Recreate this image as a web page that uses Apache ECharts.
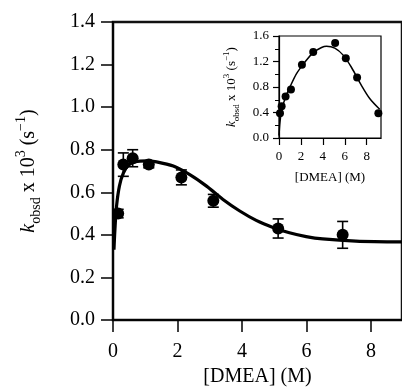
<!DOCTYPE html>
<html><head><meta charset="utf-8">
<script src="https://cdn.jsdelivr.net/npm/echarts@6/dist/echarts.min.js"></script>
<style>html,body{margin:0;padding:0;background:#fff}#c{width:402px;height:392px}</style>
</head><body><div id="c"></div><script>
// Main plot data
const mainX = [0.16, 0.32, 0.61, 1.11, 2.12, 3.11, 5.12, 7.12];
const mainY = [0.50, 0.73, 0.76, 0.73, 0.67, 0.56, 0.43, 0.40];
const mainErr = [0.02, 0.055, 0.04, 0.015, 0.035, 0.03, 0.045, 0.063];
const fitX = [0.03, 0.06, 0.11, 0.2, 0.32, 0.47, 0.68, 1.04, 1.35, 1.87, 2.38, 2.9, 3.41, 3.93, 4.44, 4.96, 5.47, 5.99, 6.5, 7.53, 8.96];
const fitY = [0.33, 0.426, 0.535, 0.63, 0.69, 0.726, 0.743, 0.748, 0.743, 0.723, 0.683, 0.629, 0.566, 0.512, 0.468, 0.435, 0.41, 0.392, 0.381, 0.371, 0.367];
// Inset data
const insetX = [0.09, 0.24, 0.6, 1.09, 2.09, 3.12, 5.12, 6.09, 7.12, 9.06];
const insetY = [0.39, 0.50, 0.65, 0.76, 1.15, 1.35, 1.49, 1.25, 0.95, 0.39];
const insetFitX = [0.0, 0.09, 0.24, 0.55, 1.0, 1.6, 2.36, 3.12, 3.88, 4.33, 5.09, 5.85, 6.6, 7.5, 8.27, 9.18];
const insetFitY = [0.04, 0.25, 0.43, 0.62, 0.80, 1.01, 1.19, 1.34, 1.42, 1.44, 1.41, 1.30, 1.11, 0.83, 0.62, 0.45];
// Tick labels
const xTickValues = [0, 2, 4, 6, 8];
const mainYTicks = { min: 0, max: 1.4, interval: 0.2 };
const mainXRange = { min: 0, max: 8.96 };
const insetYTicks = { min: 0, max: 1.6, interval: 0.4 };
const xTitle = '[DMEA] (M)';

const FONT = 'Liberation Serif';
const zip = (a, b) => a.map((v, i) => [v, b[i]]);

function yName(size) {
  const s = Math.round(size * 0.68);
  const L = Math.round(size * 1.45);
  return {
    fontFamily: FONT, color: '#000', fontSize: size,
    rich: {
      k: { fontFamily: FONT, fontStyle: 'italic', fontSize: size, color: '#000', lineHeight: L },
      t: { fontFamily: FONT, fontSize: size, color: '#000', lineHeight: L },
      sub: { fontFamily: FONT, fontSize: s, color: '#000', lineHeight: s, verticalAlign: 'bottom' },
      sup: { fontFamily: FONT, fontSize: s, color: '#000', lineHeight: s, verticalAlign: 'top' }
    }
  };
}
const yNameStr = '{k|k}{sub|obsd}{t| x 10}{sup|3}{t| (s}{sup|\u22121}{t|)}';

function errRender(params, api) {
  const x = api.value(0), lo = api.value(1), hi = api.value(2);
  const p1 = api.coord([x, lo]), p2 = api.coord([x, hi]);
  const w = 5.5;
  const st = { stroke: '#000', lineWidth: 1.6 };
  return { type: 'group', children: [
    { type: 'line', shape: { x1: p1[0], y1: p1[1], x2: p2[0], y2: p2[1] }, style: st },
    { type: 'line', shape: { x1: p1[0] - w, y1: p1[1], x2: p1[0] + w, y2: p1[1] }, style: st },
    { type: 'line', shape: { x1: p2[0] - w, y1: p2[1], x2: p2[0] + w, y2: p2[1] }, style: st }
  ]};
}

const chart = echarts.init(document.getElementById('c'), null, { renderer: 'canvas' });
chart.setOption({
  animation: false,
  backgroundColor: '#fff',
  grid: [
    { left: 113, right: -1, top: 22, bottom: 71, show: true, borderColor: '#111', borderWidth: 2.5 },
    { left: 279, right: 21, top: 36, bottom: 254, show: true, borderColor: '#000', borderWidth: 1.2, backgroundColor: '#fff', z: 5 }
  ],
  xAxis: [
    { type: 'value', gridIndex: 0, min: mainXRange.min, max: mainXRange.max, interval: 2,
      name: xTitle, nameLocation: 'middle', nameGap: 47,
      nameTextStyle: { fontFamily: FONT, fontSize: 20, color: '#000' },
      axisLine: { show: true, onZero: false, lineStyle: { color: '#000', width: 1.5 } },
      axisTick: { show: true, length: 12, lineStyle: { color: '#000', width: 1.5 }, customValues: xTickValues },
      axisLabel: { fontFamily: FONT, fontSize: 20, color: '#000', margin: 22, customValues: xTickValues },
      splitLine: { show: false } },
    { type: 'value', gridIndex: 1, min: 0, max: 9.3, interval: 2,
      name: xTitle, nameLocation: 'middle', nameGap: 33, z: 6,
      nameTextStyle: { fontFamily: FONT, fontSize: 13, color: '#000' },
      axisLine: { show: true, onZero: false, lineStyle: { color: '#000', width: 1.2 } },
      axisTick: { show: true, length: 7, lineStyle: { color: '#000', width: 1.2 }, customValues: xTickValues },
      axisLabel: { fontFamily: FONT, fontSize: 13, color: '#000', margin: 12, customValues: xTickValues },
      splitLine: { show: false } }
  ],
  yAxis: [
    { type: 'value', gridIndex: 0, min: mainYTicks.min, max: mainYTicks.max, interval: mainYTicks.interval,
      name: yNameStr, nameLocation: 'middle', nameGap: 70,
      nameTextStyle: yName(20),
      axisLine: { show: true, onZero: false, lineStyle: { color: '#000', width: 1.5 } },
      axisTick: { show: true, length: 12, lineStyle: { color: '#000', width: 1.5 } },
      axisLabel: { fontFamily: FONT, fontSize: 20, color: '#000', margin: 18, formatter: v => v.toFixed(1) },
      splitLine: { show: false } },
    { type: 'value', gridIndex: 1, min: insetYTicks.min, max: insetYTicks.max, interval: insetYTicks.interval,
      name: yNameStr, nameLocation: 'middle', nameGap: 38, z: 6,
      nameTextStyle: yName(13),
      axisLine: { show: true, onZero: false, lineStyle: { color: '#000', width: 1.2 } },
      axisTick: { show: true, length: 6, lineStyle: { color: '#000', width: 1.2 } },
      minorTick: { show: true, splitNumber: 2, length: 4, lineStyle: { color: '#000', width: 1 } },
      axisLabel: { fontFamily: FONT, fontSize: 13, color: '#000', margin: 10, formatter: v => v.toFixed(1) },
      splitLine: { show: false } }
  ],
  series: [
    { type: 'line', xAxisIndex: 0, yAxisIndex: 0, data: zip(fitX, fitY), smooth: 0.3, showSymbol: false,
      lineStyle: { color: '#000', width: 3.2 }, z: 2 },
    { type: 'custom', xAxisIndex: 0, yAxisIndex: 0, renderItem: errRender,
      data: mainX.map((x, i) => [x, mainY[i] - mainErr[i], mainY[i] + mainErr[i]]), z: 3 },
    { type: 'scatter', xAxisIndex: 0, yAxisIndex: 0, data: zip(mainX, mainY), symbol: 'circle', symbolSize: 12,
      itemStyle: { color: '#000', opacity: 1 }, z: 4 },
    { type: 'line', xAxisIndex: 1, yAxisIndex: 1, data: zip(insetFitX, insetFitY), smooth: 0.3, showSymbol: false,
      lineStyle: { color: '#000', width: 1.5 }, z: 7 },
    { type: 'scatter', xAxisIndex: 1, yAxisIndex: 1, data: zip(insetX, insetY), symbol: 'circle', symbolSize: 8,
      itemStyle: { color: '#000', opacity: 1 }, z: 8 }
  ]
});
</script></body></html>
